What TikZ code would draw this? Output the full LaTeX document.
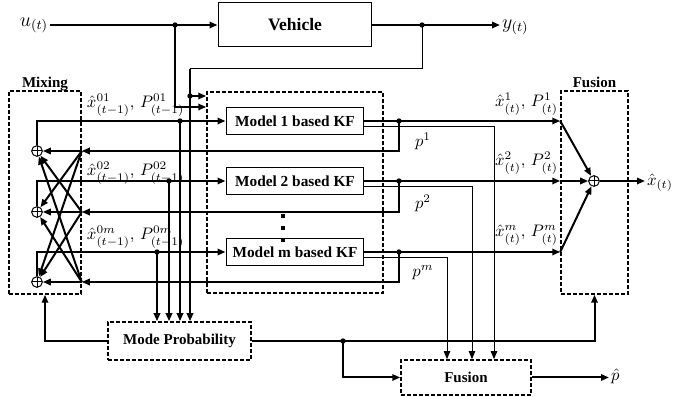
\documentclass[tikz,border=0pt]{standalone}
\usepackage{fontspec}
\setmainfont{Liberation Serif}
\usetikzlibrary{arrows.meta,calc,fit,positioning}
\tikzset{%
  immline/.style={line width=1.2pt},
  immthin/.style={line width=0.6pt},
  immarrow/.style={immline,-{Triangle[length=4.8pt,width=3.8pt]}},
  immthinarrow/.style={immthin,-{Triangle[length=4.8pt,width=3.8pt]}},
  immbox/.style={%
    draw,
    line width=0.6pt,
    fill=white,
    minimum width=82.8pt,
    minimum height=16.2pt,
    inner sep=0pt,
    font=\fontsize{9.2}{11}\selectfont\bfseries
  },
  immdash/.style={draw,line width=0.9pt,dash pattern=on 2.4pt off 1.2pt,inner sep=0pt},
  immtitle/.style={font=\fontsize{9}{10}\selectfont\bfseries},
  immmath/.style={font=\fontsize{10}{12}\selectfont,inner sep=1pt},
  immplus/.style={%
    circle,
    draw,
    line width=0.6pt,
    minimum size=6.4pt,
    inner sep=0pt,
    path picture={\draw[line width=0.6pt] (path picture bounding box.north) -- (path picture bounding box.south)
      (path picture bounding box.west) -- (path picture bounding box.east);}
  }
}
\begin{document}
\begin{tikzpicture}[x=0.6pt,y=-0.6pt]
    \useasboundingbox (0,0) rectangle (673,397);

    % containers
    \coordinate (mixnw) at (9,91);   \coordinate (mixse) at (81,294);
    \coordinate (kfnw) at (207,92);  \coordinate (kfse) at (383,293);
    \coordinate (funw) at (561,91);  \coordinate (fuse) at (628,294);
    \node[immdash,fit=(mixnw)(mixse)] (mixing) {};
    \node[immdash,fit=(kfnw)(kfse)] (filters) {};
    \node[immdash,fit=(funw)(fuse)] (fusion) {};
    \node[immtitle,anchor=base] at ($(mixing.north)+(0,-3)$) {Mixing};
    \node[immtitle,anchor=base] at ($(fusion.north)+(0,-3)$) {Fusion};

    % blocks
    \node[immbox,minimum width=92.4pt,minimum height=26.4pt,font=\fontsize{10.5}{12}\selectfont\bfseries] (veh) at (295,25) {Vehicle};
    \node[immbox] (kf1) at (295,121) {Model 1 based KF};
    \node[immbox] (kf2) at (295,181) {Model 2 based KF};
    \node[immbox] (kf3) at (295,252) {Model m based KF};
    \node[immdash,immtitle,minimum width=85.8pt,minimum height=22.8pt] (modeprob) at (179.5,341) {Mode Probability};
    \node[immdash,immtitle,minimum width=78pt,minimum height=21pt] (fusb) at (466,377.5) {Fusion};
    \fill (281,214) rectangle (285,218);
    \fill (281,226) rectangle (285,230);
    \fill (281,238) rectangle (285,242);

    % combiners
    \node[immplus] (mx1) at (37,151) {};
    \node[immplus] (mx2) at (37,212) {};
    \node[immplus] (mx3) at (37,282) {};
    \node[immplus] (fx) at (594,181) {};

    % signals
    \node[immmath,font=\fontsize{11.5}{13}\selectfont,anchor=east] (u) at (50,25) {$u_{(t)}$};
    \node[immmath,font=\fontsize{11.5}{13}\selectfont,anchor=west] (y) at (500,27) {$y_{(t)}$};
    \node[immmath,anchor=west] (xhat) at (645,183) {$\hat{x}_{(t)}$};
    \node[immmath,anchor=west] (phat) at (609,376) {$\hat{p}$};
    \node[immmath,anchor=south west] at (85,118) {$\hat{x}^{01}_{(t-1)},\,P^{01}_{(t-1)}$};
    \node[immmath,anchor=south west] at (85,186) {$\hat{x}^{02}_{(t-1)},\,P^{02}_{(t-1)}$};
    \node[immmath,anchor=south west] at (85,250) {$\hat{x}^{0m}_{(t-1)},\,P^{0m}_{(t-1)}$};
    \node[immmath,anchor=south east] at (560,117) {$\hat{x}^{1}_{(t)},\,P^{1}_{(t)}$};
    \node[immmath,anchor=south east] at (560,176) {$\hat{x}^{2}_{(t)},\,P^{2}_{(t)}$};
    \node[immmath,anchor=south east] at (560,247) {$\hat{x}^{m}_{(t)},\,P^{m}_{(t)}$};
    \node[immmath] at (423,141) {$p^{1}$};
    \node[immmath] at (423,203) {$p^{2}$};
    \node[immmath] at (423,273) {$p^{m}$};

    % junctions
    \coordinate (uj) at (175,25);
    \coordinate (ub) at (175,107);
    \coordinate (yj) at (422,25);
    \coordinate (yt) at (190,69);
    \coordinate (yb) at (190,96);
    \coordinate (pj1) at (180,121);
    \coordinate (pj2) at (169,181);
    \coordinate (pj3) at (157,252);
    \coordinate (rj1) at (399,121);
    \coordinate (rj2) at (399,181);
    \coordinate (rj3) at (399,252);
    \coordinate (mc1) at (mixing.east |- mx1);
    \coordinate (mc2) at (mixing.east |- mx2);
    \coordinate (mc3) at (mixing.east |- mx3);
    \coordinate (mpj) at (343,341);

    % vehicle
    \draw[immarrow] (u) -- (veh);
    \draw[immarrow] (veh) -- (veh.east -| y.west);
    \draw[immarrow] (uj) -- (ub) -- (ub -| filters.west);
    \draw[immthin] (yj) |- (yt);
    \draw[immarrow] (yt) -- (yt |- modeprob.north);
    \draw[immarrow] (yb) -- (yb -| filters.west);

    % mixing to filters
    \draw[immarrow] (mx1) |- (kf1);
    \draw[immarrow] (mx2) |- (kf2);
    \draw[immarrow] (mx3) |- (kf3);
    \draw[immarrow] (pj1) -- (pj1 |- modeprob.north);
    \draw[immarrow] (pj2) -- (pj2 |- modeprob.north);
    \draw[immarrow] (pj3) -- (pj3 |- modeprob.north);

    % filters back to mixing
    \draw[immarrow] (rj1) |- (mc1);
    \draw[immarrow] (rj2) |- (mc2);
    \draw[immarrow] (rj3) |- (mc3);
    \draw[immarrow] (mc1) -- (mx1);
    \draw[immarrow] (mc1) -- (mx2);
    \draw[immarrow] (mc1) -- (mx3);
    \draw[immarrow] (mc2) -- (mx1);
    \draw[immarrow] (mc2) -- (mx2);
    \draw[immarrow] (mc2) -- (mx3);
    \draw[immarrow] (mc3) -- (mx1);
    \draw[immarrow] (mc3) -- (mx2);
    \draw[immarrow] (mc3) -- (mx3);

    % filters to fusion
    \draw[immarrow] (kf1) -- (fusion.west |- kf1);
    \draw[immarrow] (kf2) -- (fusion.west |- kf2);
    \draw[immarrow] (kf3) -- (fusion.west |- kf3);
    \draw[immarrow] (fusion.west |- kf1) -- (fx);
    \draw[immarrow] (fusion.west |- kf2) -- (fx);
    \draw[immarrow] (fusion.west |- kf3) -- (fx);
    \draw[immarrow] (fx) -- (fx -| xhat.west);
    \draw[immthinarrow] ($(kf1.east)+(0,6)$) -| (494,0 |- fusb.north);
    \draw[immthinarrow] ($(kf2.east)+(0,6)$) -| (472,0 |- fusb.north);
    \draw[immthinarrow] ($(kf3.east)+(0,6)$) -| (447,0 |- fusb.north);

    % mode probability
    \draw[immarrow] (modeprob) -| (mixing);
    \draw[immarrow] (modeprob) -| (fusion);
    \draw[immarrow] (mpj) |- (fusb);
    \draw[immarrow] (fusb) -- (fusb.east -| phat.west);

    \fill (uj) circle (1.6pt);
    \fill (yj) circle (1.6pt);
    \fill (yb) circle (1.6pt);
    \fill (pj1) circle (1.6pt);
    \fill (pj2) circle (1.6pt);
    \fill (pj3) circle (1.6pt);
    \fill (rj1) circle (1.6pt);
    \fill (rj2) circle (1.6pt);
    \fill (rj3) circle (1.6pt);
    \fill (mpj) circle (1.6pt);
  \end{tikzpicture}
\end{document}
